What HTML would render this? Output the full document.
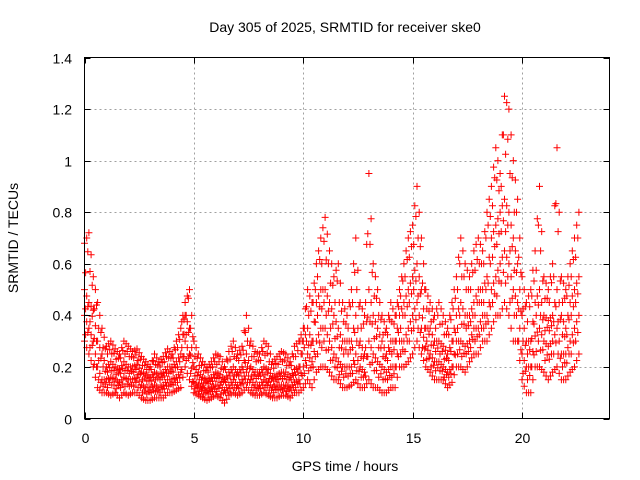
<!DOCTYPE html>
<html><head><meta charset="utf-8"><style>
body{margin:0;background:#fff}
svg{display:block;font-family:"Liberation Sans",sans-serif}
</style></head><body>
<svg id="chart" width="640" height="480">
<rect width="640" height="480" fill="#fff"/>
<text x="345" y="32" font-size="14" text-anchor="middle">Day 305 of 2025, SRMTID for receiver ske0</text>
<g id="grid"></g>
<g id="marks"></g>
<rect x="84.5" y="57.5" width="525" height="361" fill="none" stroke="#000"/>
<g id="ticks"></g>
<text x="345" y="471" font-size="14" text-anchor="middle">GPS time / hours</text>
<text x="18" y="238" font-size="14" text-anchor="middle" transform="rotate(-90 18 238)">SRMTID / TECUs</text>
</svg>
<script>
const xTicks=[0,5,10,15,20];
const yTicks=[0,0.2,0.4,0.6,0.8,1,1.2,1.4];
const yTickLabels=["0","0.2","0.4","0.6","0.8","1","1.2","1.4"];
const hours=[0,0.2,0.4,0.6,0.8,1,1.2,1.4,1.6,1.8,2,2.2,2.4,2.6,2.8,3,3.2,3.4,3.6,3.8,4,4.2,4.4,4.6,4.8,5,5.2,5.4,5.6,5.8,6,6.2,6.4,6.6,6.8,7,7.2,7.4,7.6,7.8,8,8.2,8.4,8.6,8.8,9,9.2,9.4,9.6,9.8,10,10.2,10.4,10.6,10.8,11,11.2,11.4,11.6,11.8,12,12.2,12.4,12.6,12.8,13,13.2,13.4,13.6,13.8,14,14.2,14.4,14.6,14.8,15,15.2,15.4,15.6,15.8,16,16.2,16.4,16.6,16.8,17,17.2,17.4,17.6,17.8,18,18.2,18.4,18.6,18.8,19,19.2,19.4,19.6,19.8,20,20.2,20.4,20.6,20.8,21,21.2,21.4,21.6,21.8,22,22.2,22.4,22.6];
const seriesHi=[.68,.72,.55,.45,.35,.28,.3,.27,.25,.3,.28,.26,.27,.24,.22,.2,.25,.22,.24,.27,.25,.3,.35,.45,.5,.3,.25,.22,.2,.22,.25,.24,.2,.26,.3,.25,.28,.4,.3,.26,.25,.3,.28,.22,.24,.26,.25,.22,.28,.3,.35,.5,.45,.6,.7,.78,.65,.55,.6,.45,.4,.5,.7,.45,.4,.95,.6,.5,.4,.35,.45,.4,.5,.6,.7,.75,.9,.7,.5,.45,.4,.45,.4,.35,.45,.55,.7,.6,.55,.65,.7,.65,.8,.9,1.05,.95,1.25,1.2,1.0,.85,.55,.45,.5,.65,.9,.55,.5,.6,1.05,.55,.5,.6,.7,.8];
const seriesMidHi=[.5,.45,.42,.3,.25,.2,.22,.2,.19,.22,.2,.2,.21,.18,.17,.16,.18,.17,.18,.2,.2,.22,.25,.4,.35,.2,.18,.16,.15,.16,.18,.17,.15,.18,.2,.18,.2,.25,.2,.18,.18,.2,.19,.16,.17,.18,.18,.16,.19,.2,.3,.35,.3,.45,.5,.5,.45,.4,.35,.3,.3,.3,.4,.3,.25,.5,.4,.35,.3,.25,.3,.3,.4,.45,.5,.55,.6,.5,.35,.35,.3,.3,.28,.25,.3,.4,.45,.4,.4,.45,.5,.5,.55,.7,.75,.8,.85,.8,.7,.6,.4,.3,.3,.45,.5,.4,.38,.4,.5,.4,.35,.45,.5,.55];
const seriesMidLo=[.4,.35,.3,.2,.15,.15,.16,.15,.14,.16,.15,.15,.16,.13,.12,.12,.13,.12,.13,.15,.15,.16,.18,.3,.25,.14,.13,.12,.11,.12,.13,.13,.11,.13,.15,.13,.15,.18,.15,.13,.13,.15,.14,.12,.13,.13,.13,.12,.14,.15,.2,.25,.22,.3,.35,.35,.3,.25,.22,.2,.2,.2,.25,.2,.18,.3,.25,.22,.2,.18,.2,.2,.3,.3,.35,.4,.45,.35,.28,.25,.22,.22,.2,.18,.2,.3,.3,.28,.3,.35,.35,.4,.4,.5,.55,.6,.65,.6,.5,.45,.25,.2,.2,.32,.35,.3,.28,.3,.35,.25,.25,.3,.35,.4];
const seriesLo=[.3,.25,.2,.12,.1,.1,.09,.1,.08,.1,.09,.1,.1,.08,.07,.07,.08,.08,.08,.1,.1,.11,.12,.2,.15,.1,.09,.08,.07,.08,.09,.08,.06,.09,.1,.09,.1,.12,.1,.09,.09,.1,.09,.08,.08,.09,.09,.08,.1,.1,.12,.15,.12,.18,.2,.2,.18,.15,.15,.12,.12,.13,.15,.12,.12,.15,.12,.12,.1,.1,.12,.12,.2,.2,.22,.25,.3,.25,.2,.18,.15,.15,.15,.12,.14,.2,.2,.18,.22,.25,.25,.3,.3,.35,.4,.4,.45,.4,.3,.3,.15,.1,.1,.2,.2,.18,.15,.18,.2,.15,.15,.18,.2,.25];
const NS="http://www.w3.org/2000/svg";
const X0=84.5,X1=609.5,Y0=418.5,Y1=57.5;
function xs(h){return X0+(h/24)*(X1-X0);}
function ys(v){return Y0-(v/1.4)*(Y0-Y1);}
const grid=document.getElementById('grid'),ticks=document.getElementById('ticks'),marks=document.getElementById('marks');
function el(tag,a,parent){const e=document.createElementNS(NS,tag);for(const k in a)e.setAttribute(k,a[k]);parent.appendChild(e);return e;}
xTicks.forEach((t,i)=>{
  const x=Math.round(xs(t))+0.5;
  if(i>0){const g=el('line',{x1:x,x2:x,y1:Y1,y2:Y0,stroke:'#a0a0a0','stroke-dasharray':'2,3'},grid);
  
  }
  const tk=el('path',{d:`M${x},${Y0}v-6M${x},${Y1}v6`,stroke:'#000'},ticks);
  
  
  const tx=el('text',{x:x,y:443,'font-size':14,'text-anchor':'middle'},ticks);tx.textContent=String(t);
  
  
});
yTicks.forEach((t,i)=>{
  const y=Math.round(ys(t))+0.5;
  if(i>0&&i<yTicks.length-1){const g=el('line',{x1:X0,x2:X1,y1:y,y2:y,stroke:'#a0a0a0','stroke-dasharray':'2,3'},grid);
  
  }
  const tk=el('path',{d:`M${X0},${y}h6M${X1},${y}h-6`,stroke:'#000'},ticks);
  
  
  const tx=el('text',{x:72,y:y+5,'font-size':14,'text-anchor':'end'},ticks);tx.textContent=yTickLabels[i];
  
  
});
let d='';
function cross(x,y){d+=`M${(x-3.5).toFixed(1)},${y.toFixed(1)}h7M${x.toFixed(1)},${(y-3.5).toFixed(1)}v7`;}
const S=[seriesHi,seriesMidHi,seriesMidLo,seriesLo];
S.forEach((s,k)=>{
  hours.forEach((h,i)=>{
    cross(xs(h),ys(s[i]));
    if(i<hours.length-1){
      cross(xs((h+hours[i+1])/2),ys((s[i]+s[i+1])/2));
      if(k<S.length-1){
        const t=S[k+1];
        cross(xs(h+0.05),ys((s[i]+t[i+1])/2));
        cross(xs(h+0.15),ys((s[i+1]*2+t[i])/3));
      }
    }
  });
});
const p=el('path',{d:d,stroke:'#ff0000','stroke-width':1,fill:'none'},marks);


</script>
</body></html>
